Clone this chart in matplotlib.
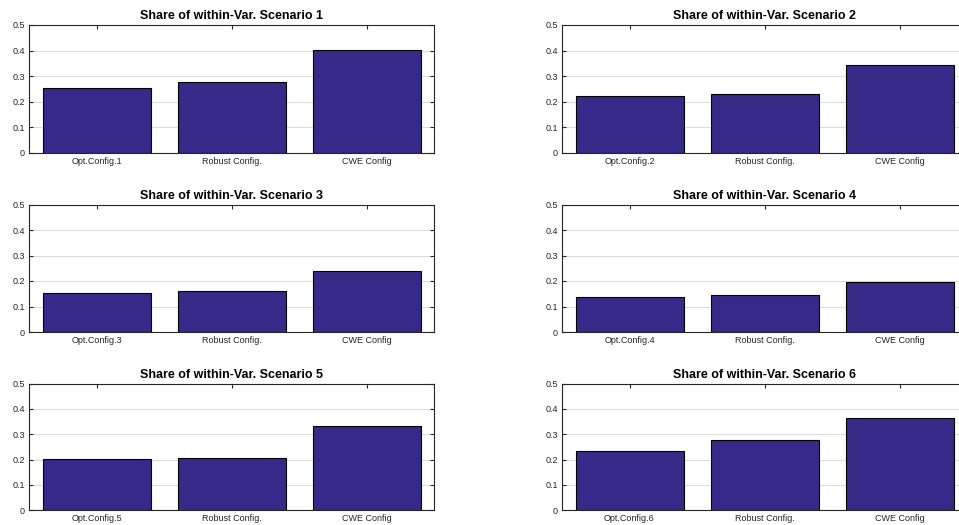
import numpy as np
import matplotlib
matplotlib.use("Agg")
import matplotlib.pyplot as plt

plt.rcParams['font.family'] = ['Liberation Sans', 'DejaVu Sans']

# share of within-variance per scenario
scenarios = [1, 2, 3, 4, 5, 6]
opt_config = [0.253, 0.221, 0.152, 0.136, 0.203, 0.234]
robust_config = [0.279, 0.229, 0.160, 0.147, 0.206, 0.279]
cwe_config = [0.402, 0.344, 0.238, 0.196, 0.331, 0.363]
ylim_max = 0.5
yticks = [0, 0.1, 0.2, 0.3, 0.4, 0.5]
yticklabels = ['0', '0.1', '0.2', '0.3', '0.4', '0.5']

bar_color = '#352a87'
W, H = 959, 525

fig = plt.figure(figsize=(W / 100, H / 100), dpi=100)

# axes boxes in pixels: (left, top, bottom)
col_left = [29, 562]
rows = [(25, 153), (204.5, 332), (383.5, 510.3)]
ax_w = 405

for i, sc in enumerate(scenarios):
    r, c = divmod(i, 2)
    top, bot = rows[r]
    ax = fig.add_axes([col_left[c] / W, 1 - bot / H, ax_w / W, (bot - top) / H])
    vals = [opt_config[i], robust_config[i], cwe_config[i]]
    x = np.arange(1, 4)
    ax.bar(x, vals, width=0.8, color=bar_color, edgecolor='black', linewidth=0.8, zorder=3)
    ax.set_xlim(0.5, 3.5)
    ax.set_ylim(0, ylim_max)
    ax.set_xticks(x)
    ax.set_xticklabels(['Opt.Config.%d' % sc, 'Robust Config.', 'CWE Config'])
    ax.set_yticks(yticks)
    ax.set_yticklabels(yticklabels)
    ax.tick_params(direction='in', length=3, width=0.8, labelsize=6.5,
                   colors='#262626', top=True, right=True, pad=3)
    ax.yaxis.grid(True, color='#dcdcdc', linewidth=0.8, zorder=0)
    ax.set_axisbelow(True)
    for sp in ax.spines.values():
        sp.set_color('#262626')
        sp.set_linewidth(0.8)
    ax.set_title('Share of within-Var. Scenario %d' % sc, fontsize=9,
                 fontweight='bold', color='black', pad=4)

fig.savefig('out.png', dpi=100)
